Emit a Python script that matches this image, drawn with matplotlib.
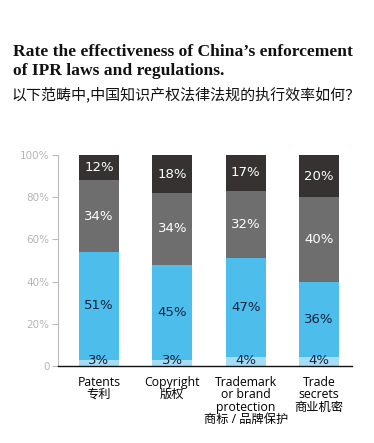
import matplotlib
matplotlib.use("Agg")
import matplotlib.pyplot as plt
import numpy as np

categories = ["Patents\n专利", "Copyright\n版权", "Trademark\nor brand\nprotection\n商标 / 品牌保护", "Trade\nsecrets\n商业机密"]
very_effective = [3, 3, 4, 4]
effective = [51, 45, 47, 36]
somewhat = [34, 34, 32, 40]
ineffective = [12, 18, 17, 20]

series = [very_effective, effective, somewhat, ineffective]
colors = ["#a6dcf4", "#4dbdec", "#6f6e6e", "#363232"]
text_colors = ["#15233d", "#15233d", "white", "white"]

fig = plt.figure(figsize=(3.74, 4.43), dpi=100)
fig.patch.set_facecolor("white")

title_kw = dict(family="Liberation Serif", weight="bold", fontsize=12.6, va="center", ha="left", color="#111111")
fig.text(0.035, 1 - 52 / 443, "Rate the effectiveness of China\u2019s enforcement", **title_kw)
fig.text(0.035, 1 - 71 / 443, "of IPR laws and regulations.", **title_kw)
fig.text(0.03, 1 - 94 / 443, "以下范畴中,中国知识产权法律法规的执行效率如何？",
         family=["Noto Sans CJK SC"], fontsize=10.8, weight="medium", va="center", ha="left", color="#111111")

ax = fig.add_axes([0.155, 0.174, 0.786, 0.476])
x = np.arange(len(categories))
bottom = np.zeros(len(categories))
for i, vals in enumerate(series):
    vals = np.array(vals, dtype=float)
    ax.bar(x, vals, width=0.545, bottom=bottom, color=colors[i], linewidth=0)
    for xi, b, v in zip(x, bottom, vals):
        y = b + v / 2 if i > 0 else 2.5
        ax.text(xi, y, f"{int(v)}%", ha="center", va="center", fontsize=9.5,
                color=text_colors[i], family="DejaVu Sans")
    bottom += vals

ax.set_xlim(-0.56, 3.45)
ax.set_ylim(0, 100)
ax.set_yticks([0, 20, 40, 60, 80, 100])
ax.set_yticklabels(["0", "20%", "40%", "60%", "80%", "100%"])
ax.set_xticks(x)
ax.set_xticklabels(categories, family=["Open Sans", "Noto Sans CJK SC"], fontsize=8.8,
                   linespacing=0.95, va="top")
ax.tick_params(axis="x", length=0, pad=7)
ax.tick_params(axis="y", length=4, color="#bbbbbb", labelcolor="#b5b5b5", labelsize=7.5, pad=2)
for lab in ax.get_yticklabels():
    lab.set_family("DejaVu Sans")

ax.spines["top"].set_visible(False)
ax.spines["right"].set_visible(False)
ax.spines["left"].set_color("#bbbbbb")
ax.spines["bottom"].set_color("#111111")
ax.spines["bottom"].set_linewidth(1.0)

fig.savefig("out.png", dpi=100, facecolor="white")
